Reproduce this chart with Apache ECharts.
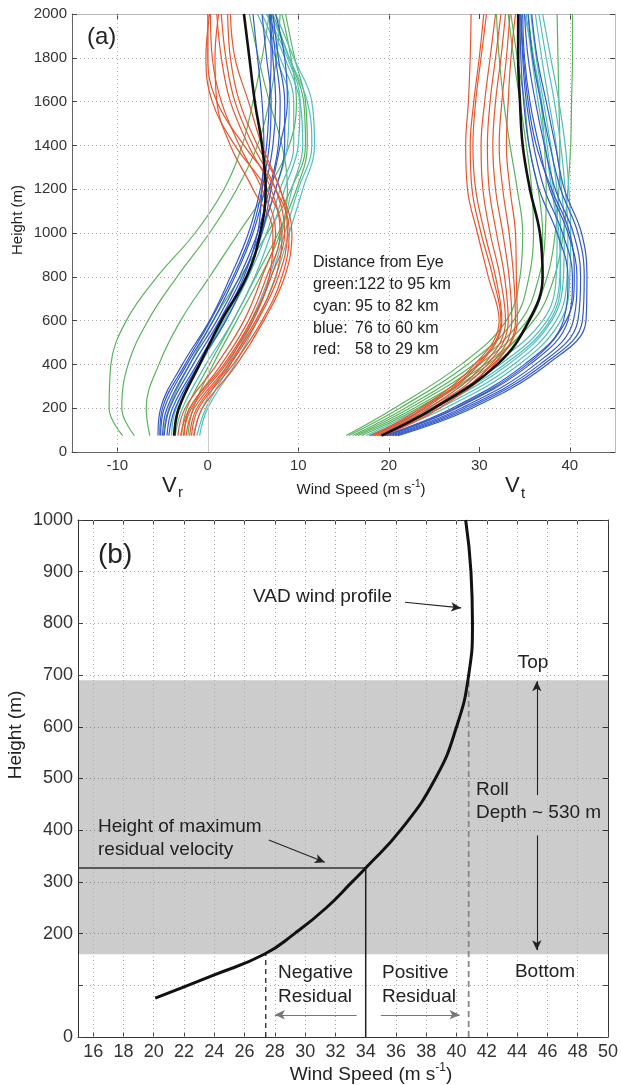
<!DOCTYPE html>
<html>
<head>
<meta charset="utf-8">
<script src="https://cdn.jsdelivr.net/npm/echarts@6/dist/echarts.min.js"></script>
<style>
html, body { margin: 0; padding: 0; background: #fff; }
#chart { width: 621px; height: 1085px; }
</style>
</head>
<body>
<div id="chart"></div>
<script>
// panel (a): profiles, heights shared by every curve
var heights = [75, 200, 400, 600, 800, 1000, 1200, 1400, 1600, 1800, 2000];

var greenVr = [
    [-9.4, -10.9, -10.7, -9.0, -5.6, -1.4, 1.8, 3.8, 5.0, 6.0, 6.8],
    [-8.1, -9.5, -8.8, -6.6, -3.4, 0.2, 3.2, 5.5, 6.8, 7.6, 8.0],
    [-6.4, -6.8, -5.4, -3.0, 0.2, 3.4, 6.6, 9.0, 9.8, 9.2, 8.2],
    [-4.9, -4.3, -2.0, 0.6, 3.6, 6.6, 9.2, 10.8, 10.6, 9.0, 7.2],
    [-2.9, -2.3, 0.2, 2.8, 5.3, 7.8, 9.8, 11.0, 10.8, 9.6, 8.6],
    [-2.2, -1.6, 0.6, 3.2, 5.8, 8.0, 8.8, 8.2, 6.8, 5.6, 4.6]
];
var cyanVr = [
    [-1.2, -0.2, 2.5, 5.0, 7.0, 8.5, 10.0, 11.5, 11.0, 9.0, 7.0],
    [-0.9, 0.0, 3.0, 5.5, 7.5, 9.0, 10.5, 11.8, 11.5, 9.5, 7.5],
    [-3.8, -3.2, -0.8, 2.0, 4.5, 6.5, 8.0, 9.5, 9.5, 8.0, 6.0],
    [-4.0, -3.5, -1.0, 1.8, 4.2, 6.0, 7.5, 8.8, 9.0, 7.5, 5.5],
    [-3.6, -2.8, -0.2, 2.8, 5.2, 7.0, 8.5, 10.0, 10.2, 8.8, 6.5],
    [-1.6, -0.6, 2.2, 4.8, 6.8, 8.2, 9.3, 10.5, 10.2, 8.5, 6.5]
];
var blueVr = [
    [-5.5, -5.2, -2.8, 0.2, 2.5, 4.5, 5.8, 6.5, 6.8, 7.0, 6.8],
    [-5.2, -4.8, -2.3, 0.6, 3.0, 5.0, 6.3, 7.2, 7.5, 7.2, 6.9],
    [-5.0, -4.5, -2.0, 1.0, 3.5, 5.5, 6.8, 7.8, 8.0, 7.5, 7.0],
    [-4.8, -4.2, -1.6, 1.3, 3.8, 5.8, 7.5, 8.5, 8.5, 7.8, 7.2],
    [-4.5, -3.9, -1.2, 1.6, 4.0, 5.5, 6.0, 6.2, 6.0, 5.5, 5.0],
    [-4.3, -3.6, -1.0, 2.0, 4.3, 6.0, 7.0, 8.0, 8.8, 8.5, 7.5],
    [-5.3, -5.0, -2.5, 0.3, 2.8, 4.8, 6.0, 6.8, 7.0, 6.5, 6.0]
];
var redVr = [
    [-3.3, -2.5, 1.0, 4.0, 6.0, 7.5, 6.0, 3.5, 1.5, 0.5, 0.3],
    [-3.0, -2.0, 1.5, 4.5, 6.5, 8.0, 7.0, 4.5, 2.5, 1.5, 1.0],
    [-2.7, -1.8, 2.0, 5.0, 7.0, 8.5, 7.5, 5.0, 3.0, 2.0, 1.5],
    [-2.4, -1.5, 2.3, 5.3, 7.5, 8.2, 6.5, 3.0, 0.5, -0.2, 0.2],
    [-2.0, -1.2, 2.5, 5.5, 7.8, 8.8, 8.0, 5.5, 3.5, 2.5, 2.2],
    [-1.8, -1.0, 2.8, 6.0, 8.2, 9.0, 7.5, 4.0, 1.0, 0.0, 0.0],
    [-2.6, -2.0, 1.8, 4.8, 6.8, 7.2, 5.0, 2.5, 1.0, 0.8, 1.2],
    [-1.5, -0.6, 3.2, 6.2, 8.5, 9.3, 8.0, 6.0, 4.5, 3.0, 2.5]
];
var meanVr = [-3.7, -3.2, -0.9, 1.5, 4.3, 5.8, 6.4, 6.0, 5.2, 4.6, 4.0];

var greenVt = [
    [15.3, 20.6, 28.0, 33.0, 34.5, 34.8, 34.2, 33.4, 32.7, 32.2, 31.9],
    [15.6, 21.2, 28.7, 33.8, 35.5, 36.0, 35.8, 35.2, 34.5, 33.8, 33.2],
    [16.0, 21.8, 29.4, 34.6, 36.6, 37.3, 37.4, 37.2, 36.8, 36.0, 35.4],
    [16.3, 22.3, 30.0, 35.3, 37.5, 38.4, 38.8, 38.9, 38.8, 38.7, 38.6],
    [16.6, 22.8, 30.6, 36.0, 38.3, 39.3, 39.8, 40.1, 40.2, 40.3, 40.3],
    [17.0, 23.2, 31.0, 35.6, 37.0, 37.0, 36.5, 35.5, 35.0, 34.2, 33.5]
];
var cyanVt = [
    [17.5, 23.5, 31.5, 37.0, 38.5, 38.6, 38.0, 37.3, 36.5, 35.8, 35.2],
    [17.8, 24.2, 32.3, 37.5, 38.9, 39.0, 38.6, 37.9, 37.1, 36.3, 35.7],
    [18.2, 25.0, 33.2, 38.0, 39.3, 39.4, 39.1, 38.5, 37.7, 36.9, 36.2],
    [18.5, 25.6, 33.8, 38.5, 39.7, 39.8, 39.5, 39.0, 38.3, 37.4, 36.6],
    [18.8, 26.2, 34.4, 39.0, 40.0, 40.1, 39.9, 39.5, 38.8, 37.9, 37.0],
    [18.0, 24.6, 32.8, 37.8, 39.0, 38.8, 38.2, 37.5, 36.9, 36.0, 35.0]
];
var blueVt = [
    [19.5, 27.0, 35.0, 39.3, 39.8, 38.6, 36.6, 35.5, 34.9, 34.6, 34.5],
    [19.8, 27.5, 35.6, 39.8, 40.3, 39.2, 37.2, 36.0, 35.2, 34.8, 34.6],
    [20.1, 28.0, 36.2, 40.4, 40.8, 39.8, 37.8, 36.6, 35.6, 35.0, 34.8],
    [20.4, 28.4, 36.7, 40.9, 41.2, 40.4, 38.4, 37.2, 36.2, 35.4, 35.0],
    [20.7, 28.8, 37.1, 41.4, 41.6, 40.9, 39.0, 37.8, 36.8, 35.9, 35.4],
    [21.0, 29.2, 37.5, 41.8, 41.9, 41.3, 39.4, 38.4, 37.4, 36.4, 35.8],
    [19.6, 27.3, 35.3, 39.6, 40.5, 40.0, 38.0, 36.3, 35.4, 34.9, 34.6]
];
var redVt = [
    [18.0, 23.5, 29.5, 32.2, 31.0, 29.8, 28.7, 28.5, 28.8, 29.0, 29.1],
    [18.4, 24.0, 30.0, 32.5, 31.8, 30.6, 29.6, 29.3, 29.6, 30.2, 30.8],
    [18.7, 24.4, 30.5, 32.9, 32.3, 31.2, 30.4, 30.2, 30.6, 31.2, 31.8],
    [19.0, 24.8, 30.9, 33.2, 32.8, 31.9, 31.1, 30.9, 31.2, 31.8, 32.4],
    [19.2, 25.2, 31.3, 33.6, 33.3, 32.6, 31.8, 31.5, 31.8, 32.4, 32.9],
    [19.4, 25.6, 31.7, 34.0, 33.8, 33.3, 32.6, 32.2, 32.5, 33.0, 33.4],
    [19.0, 25.0, 31.5, 34.2, 34.1, 34.0, 33.4, 33.0, 33.2, 33.5, 34.0],
    [18.2, 23.8, 29.8, 32.4, 31.5, 30.2, 29.2, 29.0, 29.4, 30.0, 30.5]
];
var meanVt = [19.2, 25.0, 32.0, 35.5, 37.0, 36.7, 35.6, 34.8, 34.5, 34.3, 34.3];

var ticksA = [-10, 0, 10, 20, 30, 40];
var gridA = [-10, 10, 20, 40];

// panel (b): VAD profile
var vadHeight = [75, 120, 160, 200, 250, 300, 327, 400, 500, 600, 700, 800, 900, 1000];
var vadSpeed = [20.1, 24.0, 27.3, 29.3, 31.4, 33.1, 34.0, 36.3, 38.6, 40.0, 40.8, 41.05, 40.95, 40.6];
var ticksB = [16, 18, 20, 22, 24, 26, 28, 30, 32, 34, 36, 38, 40, 42, 44, 46, 48, 50];
var gridB = [16, 18, 20, 22, 24, 26, 28, 30, 32, 34, 36, 38, 40, 42, 44, 46, 48];
var rollTop = 690, rollBottom = 160;
var maxResHeight = 327, maxResSpeed = 34;
var negSpeed = 27.4, posSpeed = 40.8;

var FONT = 'Liberation Sans, Arial, sans-serif';
var colors = { green: '#58b45c', cyan: '#4fbfbb', blue: '#3459c9', red: '#e8552d' };

var chart = echarts.init(document.getElementById('chart'), null, { renderer: 'canvas' });

function profile(vals, color, width, z) {
    return {
        type: 'line', xAxisIndex: 0, yAxisIndex: 0,
        data: vals.map(function (v, i) { return [v, heights[i]]; }),
        showSymbol: false, smooth: 0.4, silent: true,
        lineStyle: { color: color, width: width }, z: z
    };
}

var series = [];
// gridlines for panel a
series.push({
    type: 'line', xAxisIndex: 0, yAxisIndex: 0, data: [], silent: true,
    markLine: {
        silent: true, symbol: ['none', 'none'], label: { show: false },
        lineStyle: { color: '#aaa', type: [1, 3], width: 1 },
        data: gridA.map(function (v) { return { xAxis: v }; }).concat([
            { xAxis: 0, lineStyle: { color: '#ccc', type: 'solid', width: 1 } }
        ])
    }, z: 1
});
[[greenVr, greenVt, colors.green], [cyanVr, cyanVt, colors.cyan],
 [blueVr, blueVt, colors.blue], [redVr, redVt, colors.red]].forEach(function (g, k) {
    g[0].forEach(function (c) { series.push(profile(c, g[2], 1.2, 3 + k)); });
    g[1].forEach(function (c) { series.push(profile(c, g[2], 1.2, 3 + k)); });
});
series.push(profile(meanVr, '#111', 2.6, 9));
series.push(profile(meanVt, '#111', 2.6, 9));

// panel b: band + gridlines
series.push({
    type: 'line', xAxisIndex: 2, yAxisIndex: 2, data: [], silent: true, z: 2,
    markLine: {
        silent: true, symbol: ['none', 'none'], label: { show: false },
        lineStyle: { color: '#aaa', type: [1, 3], width: 1 },
        data: gridB.map(function (v) { return { xAxis: v }; })
    },
    markArea: {
        silent: true,
        itemStyle: { color: 'rgba(0,0,0,0.2)' },
        data: [[{ yAxis: rollBottom }, { yAxis: rollTop }]]
    }
});
function seg(pts, color, width, type) {
    return {
        type: 'line', xAxisIndex: 2, yAxisIndex: 2, data: pts, showSymbol: false, silent: true,
        lineStyle: { color: color, width: width, type: type || 'solid' }, z: 5
    };
}
series.push(seg([[15, maxResHeight], [maxResSpeed, maxResHeight]], '#333', 1.5));
series.push(seg([[maxResSpeed, 0], [maxResSpeed, maxResHeight]], '#222', 1.5));
series.push(seg([[negSpeed, 0], [negSpeed, rollBottom]], '#222', 1.3, [5, 4]));
series.push(seg([[posSpeed, 0], [posSpeed, rollTop]], '#888', 1.8, [6, 4]));
series.push({
    type: 'line', xAxisIndex: 2, yAxisIndex: 2, showSymbol: false, silent: true, smooth: 0.5,
    data: vadSpeed.map(function (v, i) { return [v, vadHeight[i]]; }),
    lineStyle: { color: '#111', width: 3 }, z: 6
});
// arrows
function arrow(a, b, color) {
    return [{ coord: a, lineStyle: { color: color } }, { coord: b }];
}
series.push({
    type: 'line', xAxisIndex: 2, yAxisIndex: 2, data: [], silent: true, z: 7,
    markLine: {
        silent: true, symbol: ['none', 'arrow'], symbolSize: [7, 10], label: { show: false },
        lineStyle: { type: 'solid', width: 1.1, color: '#222' },
        data: [
            arrow([36.6, 841], [40.3, 830], '#222'),
            arrow([27.6, 381], [31.3, 338], '#222'),
            arrow([45.3, 468], [45.3, 688], '#222'),
            arrow([45.3, 390], [45.3, 168], '#222'),
            arrow([33.4, 43], [28.0, 43], '#777'),
            arrow([35.0, 43], [40.2, 43], '#777')
        ]
    }
});

function plain(v) { return String(v); }
function xAx(grid, min, max, ticks, top, labels, lineColor, size) {
    return {
        type: 'value', gridIndex: grid, min: min, max: max, position: top ? 'top' : 'bottom',
        axisLine: { show: true, onZero: false, lineStyle: { color: lineColor, width: 1 } },
        axisTick: { show: true, inside: true, length: 5, customValues: ticks, lineStyle: { color: '#444' } },
        axisLabel: { show: labels, customValues: ticks, margin: 6, color: '#333', fontSize: size, fontFamily: FONT, formatter: plain },
        splitLine: { show: false }
    };
}
function yAx(grid, max, interval, right, labels, lineColor, size, fmt, split) {
    return {
        type: 'value', gridIndex: grid, min: 0, max: max, interval: interval, position: right ? 'right' : 'left',
        axisLine: { show: true, onZero: false, lineStyle: { color: lineColor, width: 1 } },
        axisTick: { show: true, inside: true, length: 5, lineStyle: { color: '#444' } },
        axisLabel: { show: labels, margin: 5, color: '#333', fontSize: size, fontFamily: FONT, formatter: fmt || plain },
        splitLine: { show: split, lineStyle: { color: '#aaa', type: [1, 3] } }
    };
}

var T = function (text, x, y, size, align, extra) {
    var o = { type: 'text', x: x, y: y, silent: true, z: 100,
        style: { text: text, font: size + 'px ' + FONT, fill: '#222', align: align || 'left', verticalAlign: 'middle' } };
    if (extra) { for (var k in extra) o[k] = extra[k]; }
    return o;
};

var option = {
    animation: false,
    backgroundColor: '#fff',
    grid: [
        { left: 72, top: 14, width: 543, height: 438 },
        { left: 78, top: 520, width: 532, height: 517 }
    ],
    xAxis: [
        xAx(0, -15, 45, ticksA, false, true, '#666', 15),
        xAx(0, -15, 45, ticksA, true, false, '#bbb', 15),
        xAx(1, 15, 50, ticksB, false, true, '#333', 18),
        xAx(1, 15, 50, ticksB, true, false, '#333', 18)
    ],
    yAxis: [
        yAx(0, 2000, 200, false, true, '#666', 15, null, true),
        yAx(0, 2000, 200, true, false, '#bbb', 15, null, false),
        yAx(1, 1000, 100, false, true, '#333', 18, function (v) { return v === 100 ? '' : String(v); }, true),
        yAx(1, 1000, 100, true, false, '#333', 18, null, false)
    ],
    series: series,
    graphic: [
        T('(a)', 87, 37, 24),
        T('Height (m)', 18, 220, 15, 'center', { rotation: Math.PI / 2 }),
        T('V', 162, 486, 22),
        T('r', 178, 493, 15),
        T('V', 505, 486, 22),
        T('t', 521, 494, 15),
        {
            type: 'text', x: 361, y: 488, silent: true, z: 100,
            style: {
                text: '{a|Wind Speed (m s}{s|-1}{a|)}', align: 'center', verticalAlign: 'middle',
                rich: {
                    a: { font: '15px ' + FONT, fill: '#222', lineHeight: 18, verticalAlign: 'bottom' },
                    s: { font: '10px ' + FONT, fill: '#222', lineHeight: 18, verticalAlign: 'top' }
                }
            }
        },
        T('Distance from Eye', 313, 263, 16),
        T('green:122 to 95 km', 313, 285, 16),
        T('cyan:', 313, 307, 16),
        T('95 to 82 km', 355, 307, 16),
        T('blue:', 313, 329, 16),
        T('76 to 60 km', 355, 329, 16),
        T('red:', 313, 350, 16),
        T('58 to 29 km', 355, 350, 16),

        T('(b)', 98, 555, 28),
        T('Height (m)', 16, 735, 19, 'center', { rotation: Math.PI / 2 }),
        {
            type: 'text', x: 371, y: 1073, silent: true, z: 100,
            style: {
                text: '{a|Wind Speed (m s}{s|-1}{a|)}', align: 'center', verticalAlign: 'middle',
                rich: {
                    a: { font: '19px ' + FONT, fill: '#222', lineHeight: 22, verticalAlign: 'bottom' },
                    s: { font: '12px ' + FONT, fill: '#222', lineHeight: 22, verticalAlign: 'top' }
                }
            }
        },
        T('VAD wind profile', 253, 597, 19),
        T('Top', 533, 663, 19, 'center'),
        T('Roll', 476, 790, 19),
        T('Depth ~ 530 m', 476, 813, 19),
        T('Height of maximum', 98, 827, 19),
        T('residual velocity', 98, 850, 19),
        T('Negative', 278, 973, 19),
        T('Residual', 278, 997, 19),
        T('Positive', 382, 973, 19),
        T('Residual', 382, 997, 19),
        T('Bottom', 545, 972, 19, 'center')
    ]
};
chart.setOption(option);
</script>
</body>
</html>
